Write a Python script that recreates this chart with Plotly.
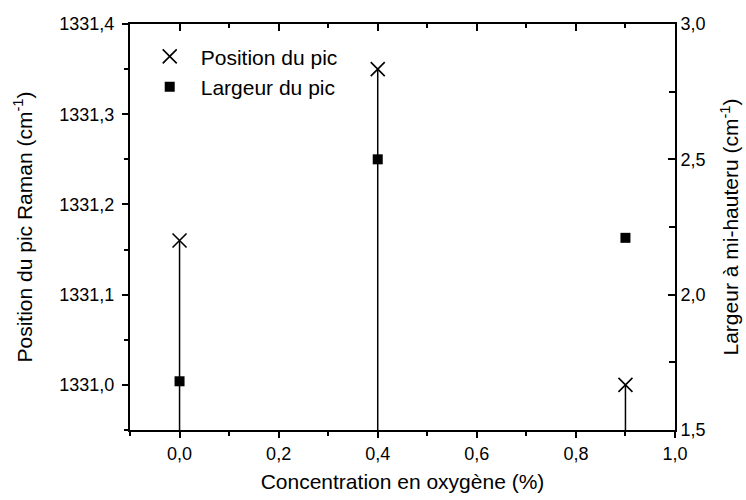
import plotly.graph_objects as go

# ---- data ----
concentration = [0.0, 0.4, 0.9]
position_pic = [1331.16, 1331.35, 1331.00]
largeur_pic = [1.68, 2.50, 2.21]

x_range = [-0.1, 1.0]
y_left_range = [1330.95, 1331.4]
y_right_range = [1.5, 3.0]

FONT = "Liberation Sans, Arial, sans-serif"

# stems from each position point down to the bottom axis
stem_x, stem_y = [], []
for c, p in zip(concentration, position_pic):
    stem_x += [c, c, None]
    stem_y += [y_left_range[0], p, None]

fig = go.Figure()
fig.add_trace(go.Scatter(x=stem_x, y=stem_y, mode="lines",
                         line=dict(color="black", width=1.5),
                         showlegend=False, hoverinfo="skip"))
fig.add_trace(go.Scatter(x=concentration, y=position_pic, mode="markers",
                         name="Position du pic",
                         marker=dict(symbol="x-thin", size=14, color="black",
                                     line=dict(color="black", width=1.6))))
fig.add_trace(go.Scatter(x=concentration, y=largeur_pic, mode="markers",
                         name="Largeur du pic", yaxis="y2",
                         marker=dict(symbol="square", size=10, color="black")))
# empty trace to anchor top axis
fig.add_trace(go.Scatter(x=[], y=[], xaxis="x2", showlegend=False, hoverinfo="skip"))

axis_common = dict(showline=True, linecolor="black", linewidth=2, showgrid=False,
                   zeroline=False, tickcolor="black", tickwidth=1.5, automargin=False,
                   tickfont=dict(family=FONT, size=18, color="black"),
                   tickformat=".1f")

fig.update_layout(
    width=746, height=500,
    margin=dict(l=130, r=71, t=24, b=70, autoexpand=False),
    paper_bgcolor="white", plot_bgcolor="white",
    separators=", ",
    font=dict(family=FONT, color="black"),
    xaxis=dict(range=x_range, tick0=0, dtick=0.2, ticks="outside", ticklen=6,
               minor=dict(dtick=0.1, ticks="outside", ticklen=4, tickcolor="black", tickwidth=1.5),
               title=dict(text="Concentration en oxygène (%)", font=dict(family=FONT, size=21, color="black"),
                          standoff=12),
               **axis_common),
    xaxis2=dict(range=x_range, overlaying="x", side="top", anchor="y",
                tick0=0, dtick=0.2, ticks="inside", ticklen=7, showticklabels=False,
                minor=dict(dtick=0.1, ticks="inside", ticklen=4, tickcolor="black", tickwidth=1.5),
                **{k: v for k, v in axis_common.items() if k not in ("tickfont", "tickformat")}),
    yaxis=dict(range=y_left_range, tick0=1331.0, dtick=0.1, ticks="outside", ticklen=6,
               ticklabelstandoff=4,
               minor=dict(dtick=0.05, ticks="outside", ticklen=4, tickcolor="black", tickwidth=1.5),
               title=dict(text="Position du pic Raman (cm<sup>-1</sup>)", font=dict(family=FONT, size=21, color="black"),
                          standoff=21),
               **axis_common),
    yaxis2=dict(range=y_right_range, overlaying="y", side="right", anchor="x",
                tick0=1.5, dtick=0.5, ticks="inside", ticklen=7,
                minor=dict(dtick=0.25, ticks="inside", ticklen=6, tickcolor="black", tickwidth=1.5),
                title=dict(text="Largeur à mi-hauteru (cm<sup>-1</sup>)", font=dict(family=FONT, size=21, color="black"),
                           standoff=19),
                **axis_common),
    legend=dict(x=0.016, y=0.97, xanchor="left", yanchor="top",
                bgcolor="rgba(0,0,0,0)", borderwidth=0,
                font=dict(family=FONT, size=21, color="black"),
                itemwidth=52, tracegroupgap=0),
    showlegend=True,
)

fig.write_html("out.html", config={"displayModeBar": False},
               post_script="document.body.style.margin='0';")
